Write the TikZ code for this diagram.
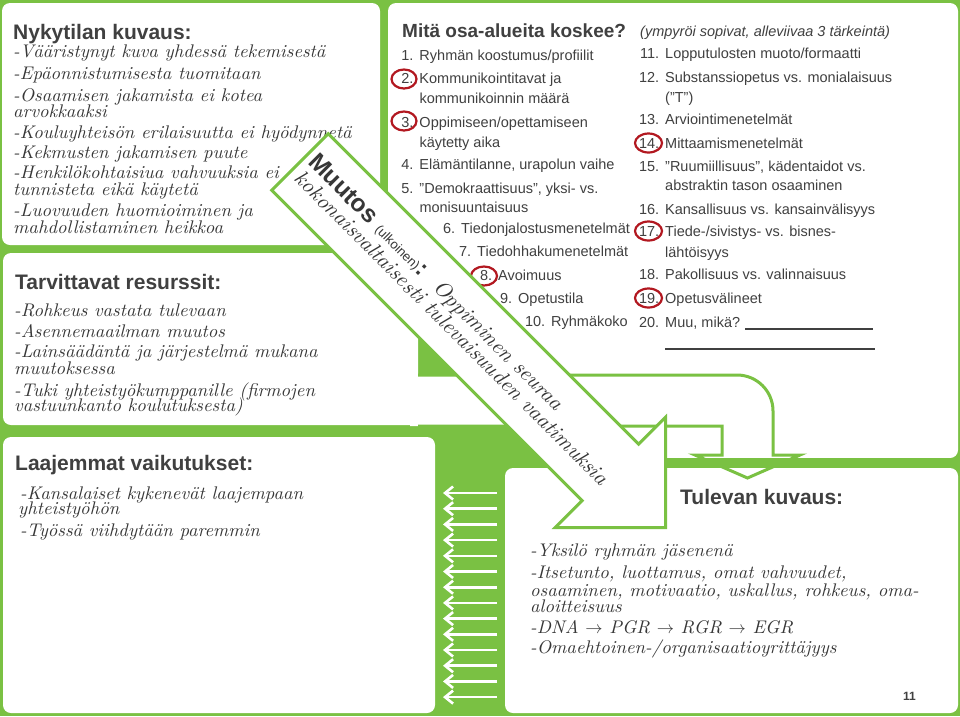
\documentclass[tikz,border=0pt]{standalone}
\usepackage{fontspec}
\usepackage{tikz}
\usetikzlibrary{arrows.meta,positioning,calc}
\newfontfamily\arial{Liberation Sans}
\newfontfamily\handfont[FakeStretch=1.02]{lmroman10-italic.otf}
\definecolor{mGreen}{RGB}{122,193,67}
\definecolor{mText}{RGB}{64,64,64}
\definecolor{mHand}{RGB}{55,55,55}
\definecolor{mRing}{RGB}{178,24,32}
\newcommand{\handtext}{\handfont\fontsize{18.3}{20}\selectfont}
\newcommand{\handbig}{\handfont\fontsize{21.5}{24}\selectfont}
\tikzset{
  panel/.style={fill=white, rounded corners=8pt},
  heading/.style={font=\arial\bfseries\fontsize{21}{25}\selectfont, text=mText, inner sep=0pt, anchor=base west},
  listitem/.style={font=\arial\fontsize{14.5}{17}\selectfont, text=mText, inner sep=0pt, anchor=base west},
  hand/.style={font=\handtext, text=mHand, inner sep=0pt, anchor=base west},
  ring/.style={draw=mRing, line width=2.2pt},
  greenline/.style={draw=mGreen, line width=3pt, line join=miter},
  backarrow/.style={white, line width=2.6pt, -{Straight Barb[length=8pt,width=13pt]}},
}

\begin{document}
\begin{tikzpicture}[x=1pt,y=-1pt]
    \useasboundingbox (0,0) rectangle (960,716);
    % Background
    \fill[mGreen] (0,0) rectangle (960,716);
    % Panels
    \fill[panel] (2,3) rectangle (380,245);
    \fill[panel] (388,3) -- (958,3) -- (958,458) -- (598,458) -- (388,248) -- cycle;
    \fill[panel] (3,253) rectangle (418,425);
    \fill[panel] (3,437) rectangle (435,713);
    \fill[panel] (505,468) rectangle (958,713);

    % Nykytilan kuvaus
    \node[heading] (nyk) at (13,39) {Nykytilan kuvaus:};
    \foreach \yy/\txt [count=\i] in {57/{-Vääristynyt kuva yhdessä tekemisestä},
        79/{-Epäonnistumisesta tuomitaan}, 101/{-Osaamisen jakamista ei kotea},
        117/{arvokkaaksi}, 138/{-Kouluyhteisön erilaisuutta ei hyödynnetä},
        158/{-Kekmusten jakamisen puute}, 178/{-Henkilökohtaisiua vahvuuksia ei},
        195/{tunnisteta eikä käytetä}, 216/{-Luovuuden huomioiminen ja},
        233/{mahdollistaminen heikkoa}}
      \node[hand] (nyk\i) at (13,\yy) {\txt};

    % Tarvittavat resurssit
    \node[heading] (res) at (15,289) {Tarvittavat resurssit:};
    \foreach \yy/\txt [count=\i] in {316/{-Rohkeus vastata tulevaan},
        337/{-Asennemaailman muutos}, 357/{-Lainsäädäntä ja järjestelmä mukana},
        374/{muutoksessa}, 396/{-Tuki yhteistyökumppanille (firmojen},
        411/{vastuunkanto koulutuksesta)}}
      \node[hand] (res\i) at (14,\yy) {\txt};

    % Laajemmat vaikutukset
    \node[heading] (laa) at (15,470) {Laajemmat vaikutukset:};
    \node[hand] (laa1) at (20,499) {-Kansalaiset kykenevät laajempaan};
    \node[hand] (laa2) at (18,514) {yhteistyöhön};
    \node[hand] (laa3) at (20,536) {-Työssä viihdytään paremmin};

    % Tulevan kuvaus
    \node[heading] (tul) at (680,504) {Tulevan kuvaus:};
    \foreach \yy/\txt [count=\i] in {556/{-Yksilö ryhmän jäsenenä},
        578/{-Itsetunto, luottamus, omat vahvuudet,},
        596/{osaaminen, motivaatio, uskallus, rohkeus, oma-},
        612/{aloitteisuus}, 633/{-DNA $\rightarrow$ PGR $\rightarrow$ RGR $\rightarrow$ EGR},
        653/{-Omaehtoinen-/organisaatioyrittäjyys}}
      \node[hand] (tul\i) at (530,\yy) {\txt};
    \node[font=\arial\bfseries\fontsize{12}{14}\selectfont, text=mText, inner sep=0pt, anchor=base west] (sivu) at (903,700) {11};

    % Mita osa-alueita koskee
    \node[heading, font=\arial\bfseries\fontsize{19}{23}\selectfont] (osa) at (402,37) {Mitä osa-alueita koskee?};
    \node[listitem, font=\arial\itshape\fontsize{14.5}{17}\selectfont] (ohje) at (640,36) {(ympyröi sopivat, alleviivaa 3 tärkeintä)};
    \foreach \xx/\yy/\num/\txt [count=\i] in {419.3/60/1./{Ryhmän koostumus/profiilit},
        419.3/83/2./{Kommunikointitavat ja}, 419.3/103/{}/{kommunikoinnin määrä},
        419.3/127/3./{Oppimiseen/opettamiseen}, 419.3/147/{}/{käytetty aika},
        419.3/169/4./{Elämäntilanne, urapolun vaihe},
        419.3/193/5./{”Demokraattisuus”, yksi- vs.}, 419.3/212/{}/{monisuuntaisuus},
        461/233/6./{Tiedonjalostusmenetelmät}, 477/256/7./{Tiedohhakumenetelmät},
        498/280/8./{Avoimuus}, 518/303/9./{Opetustila}, 551/326/10./{Ryhmäkoko}}
      \node[listitem] (va\i) at (\xx,\yy) {\llap{\num\hspace{6pt}}\txt};
    \foreach \yy/\num/\txt [count=\i] in {58/11./{Lopputulosten muoto/formaatti},
        82/12./{Substanssiopetus vs. monialaisuus}, 102/{}/{(”T”)},
        124/13./{Arviointimenetelmät}, 148/14./{Mittaamismenetelmät},
        171/15./{”Ruumiillisuus”, kädentaidot vs.}, 190/{}/{abstraktin tason osaaminen},
        214/16./{Kansallisuus vs. kansainvälisyys},
        236/17./{Tiede-/sivistys- vs. bisnes-}, 257/{}/{lähtöisyys},
        279/18./{Pakollisuus vs. valinnaisuus}, 303/19./{Opetusvälineet},
        327/20./{Muu, mikä?}}
      \node[listitem] (oi\i) at (665,\yy) {\llap{\num\hspace{6pt}}\txt};
    % Blank answer lines
    \draw[mText, line width=1.2pt] (745,329) -- (873,329);
    \draw[mText, line width=1.2pt] (665,349) -- (875,349);
    % Circled choices
    \foreach \xx/\yy/\rx in {404/79/12.5, 404/121/12.5, 484/276/13, 648.5/143/13.5, 648.5/231/13.5, 648.5/298/13.5}
      \draw[ring] (\xx,\yy) ellipse ({\rx} and 9.5);

    % Bent arrow into Tulevan kuvaus
    \fill[white] (410,375) -- (737,375) .. controls (756.9,375) and (773,391.1) .. (773,411)
      -- (773,455) -- (800,455) -- (747.5,478) -- (695,455) -- (722,455) -- (722,426) -- (410,426) -- cycle;
    \draw[greenline] (418,375) -- (737,375) .. controls (756.9,375) and (773,391.1) .. (773,411)
      -- (773,455) -- (800,455) -- (747.5,478) -- (695,455) -- (722,455) -- (722,426) -- (418,426);
    \fill[mGreen] (600,458) rectangle (958,468);

    % Return arrows
    \foreach \k in {0,...,13}
      \draw[backarrow] (497,{493+15.7*\k}) -- (443,{493+15.7*\k});

    % Big arrow: Muutos
    \begin{scope}[shift={(300,162)},rotate=-45,transform shape]
      \filldraw[greenline, fill=white] (0,-40) -- (439,-40) -- (439,-78) -- (517,0)
        -- (439,78) -- (439,40) -- (0,40) -- cycle;
      \node[hand, font=\handbig] (muutos) at (6,-4)
        {{\arial\bfseries\fontsize{24.5}{28}\selectfont Muutos} {\arial\fontsize{13}{15}\selectfont(ulkoinen)}{\arial\bfseries\fontsize{24}{28}\selectfont:}\hspace{6pt} Oppiminen seuraa};
      \node[hand, font=\handbig] (vaatimus) at (8,17) {kokonaisvaltaisesti tulevaisuuden vaatimuksia};
    \end{scope}
\end{tikzpicture}
\end{document}
